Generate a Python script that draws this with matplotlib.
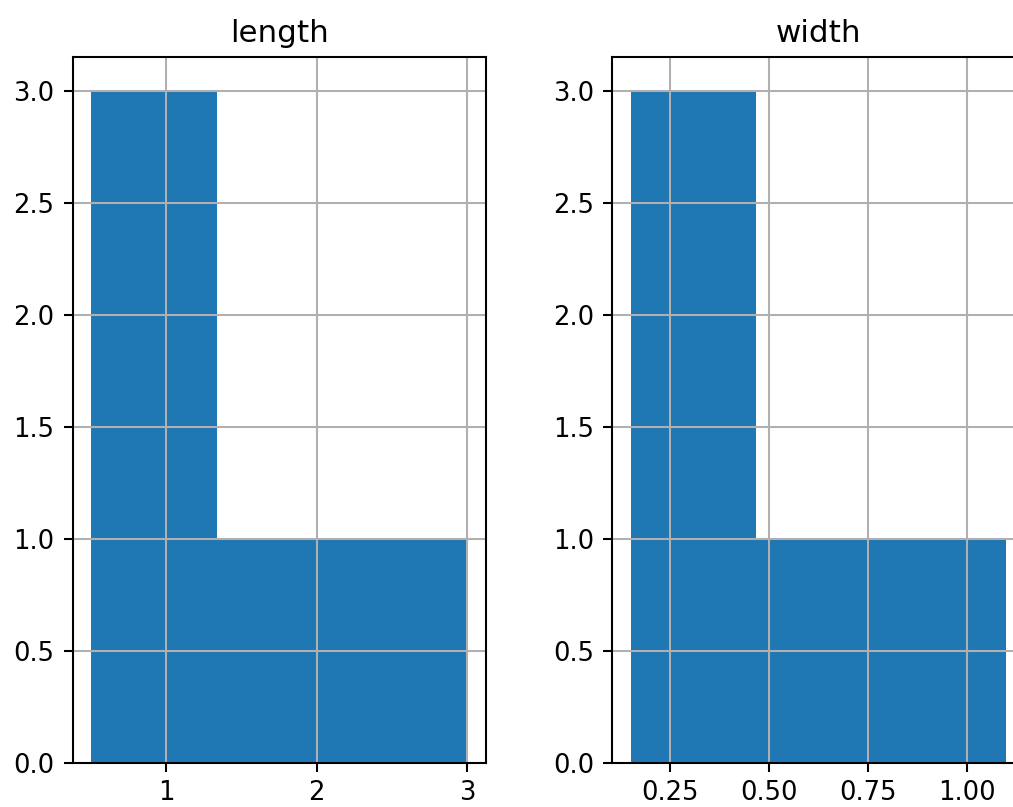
import numpy as np
import matplotlib.pyplot as plt

animals = ['pig', 'rabbit', 'duck', 'chicken', 'horse']
length = [1.5, 0.5, 1.2, 0.9, 3.0]
width = [0.7, 0.2, 0.15, 0.2, 1.1]

DPI = 186
fig = plt.figure(figsize=(1013 / DPI, 807 / DPI), dpi=DPI)
fig.patch.set_facecolor('white')

ax1 = fig.add_axes([0.0717, 0.0545, 0.4077, 0.8748])
ax2 = fig.add_axes([0.6042, 0.0545, 0.4077, 0.8748])

for ax, vals, name in [(ax1, length, 'length'), (ax2, width, 'width')]:
    ax.hist(vals, bins=3, color='#1f77b4')
    ax.set_title(name)
    ax.grid(True)
    ax.tick_params(axis='x', pad=3)

ax1.set_xticks([1, 2, 3])
ax2.set_xticks([0.25, 0.50, 0.75, 1.00])
# the reference is cropped, its right spine falls outside the picture
ax2.spines['right'].set_visible(False)

fig.savefig('out.png', dpi=DPI)
